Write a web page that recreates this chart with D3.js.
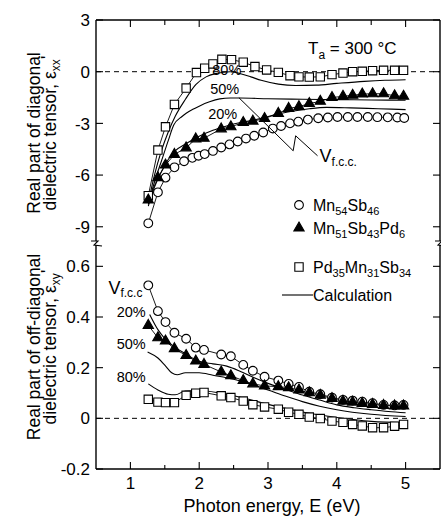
<!DOCTYPE html>
<html>
<head>
<meta charset="utf-8">
<script src="https://cdn.jsdelivr.net/npm/d3@7"></script>
<style>
  body { margin: 0; background: #fff; }
  svg { display: block; }
  text { font-family: "Liberation Sans", Arial, Helvetica, sans-serif; fill: #000; }
</style>
</head>
<body>
<svg id="chart" width="441" height="517"></svg>
<script>
// ---------------- measured data ----------------
// Real part of the diagonal tensor, eps_xx'
const energyMnSbXX = [1.26, 1.40, 1.51, 1.64, 1.78, 1.90, 1.99, 2.08, 2.20, 2.32, 2.44, 2.56, 2.68, 2.80, 2.93,
  3.07, 3.19, 3.32, 3.44, 3.58, 3.73, 3.87, 4.01, 4.16, 4.30, 4.45, 4.59, 4.74, 4.88, 4.98];
const epsXXMnSb = [-8.8, -7.0, -6.15, -5.55, -5.2, -5.0, -4.88, -4.78, -4.6, -4.4, -4.22, -4.05, -3.88, -3.72, -3.53,
  -3.3, -3.15, -3.0, -2.9, -2.78, -2.7, -2.66, -2.63, -2.63, -2.63, -2.63, -2.64, -2.65, -2.66, -2.69];

const energyGrid = [1.26, 1.40, 1.51, 1.64, 1.81, 1.95, 2.07, 2.32, 2.46, 2.64, 2.78, 2.95, 3.15, 3.30, 3.45,
  3.60, 3.76, 3.93, 4.09, 4.23, 4.37, 4.52, 4.68, 4.84, 4.97];
const epsXXMnSbPd = [-7.45, -6.15, -5.42, -4.8, -4.42, -3.9, -3.86, -3.32, -3.2, -2.95, -2.87, -2.72, -2.42, -2.13, -2.03,
  -1.85, -1.72, -1.5, -1.43, -1.37, -1.3, -1.28, -1.28, -1.4, -1.43];

const energyPdMnSbXX = [1.26, 1.40, 1.51, 1.64, 1.81, 1.96, 2.08, 2.20, 2.33, 2.47, 2.64, 2.81, 2.98, 3.15, 3.32,
  3.45, 3.60, 3.76, 3.93, 4.09, 4.23, 4.37, 4.52, 4.68, 4.84, 4.97];
const epsXXPdMnSb = [-7.2, -4.55, -3.2, -1.9, -0.95, -0.05, 0.2, 0.45, 0.72, 0.70, 0.55, 0.30, 0.10, -0.04, -0.23,
  -0.3, -0.31, -0.3, -0.17, -0.08, 0.0, 0.02, 0.06, 0.08, 0.08, 0.08];

// Real part of the off-diagonal tensor, eps_xy' (all on energyGrid)
const epsXYMnSb = [0.525, 0.423, 0.38, 0.338, 0.314, 0.279, 0.27, 0.252, 0.245, 0.211, 0.188, 0.164, 0.149, 0.136, 0.124,
  0.105, 0.095, 0.082, 0.073, 0.07, 0.066, 0.06, 0.053, 0.051, 0.053];
const epsXYMnSbPd = [0.367, 0.318, 0.305, 0.275, 0.248, 0.226, 0.213, 0.183, 0.168, 0.149, 0.136, 0.128, 0.125, 0.121, 0.112,
  0.101, 0.091, 0.078, 0.068, 0.064, 0.059, 0.055, 0.051, 0.049, 0.049];
const epsXYPdMnSb = [0.075, 0.064, 0.062, 0.062, 0.091, 0.099, 0.102, 0.089, 0.082, 0.068, 0.054, 0.045, 0.036, 0.024, 0.016,
  0.005, -0.001, -0.011, -0.016, -0.024, -0.03, -0.037, -0.037, -0.031, -0.024];

// ---------------- calculated curves (f.c.c. volume fraction) ----------------
const calcXXE80 = [1.26, 1.35, 1.45, 1.55, 1.65, 1.80, 1.95, 2.10, 2.25, 2.45, 2.60, 2.75, 2.90, 3.15, 3.40, 3.70, 4.00, 4.40, 4.70, 5.00];
const calcXX80 = [-7.6, -6.0, -4.6, -3.5, -2.6, -1.6, -0.75, -0.3, -0.1, 0.0, -0.12, -0.3, -0.5, -0.72, -0.8, -0.78, -0.68, -0.56, -0.5, -0.47];
const calcXXE50 = [1.26, 1.35, 1.45, 1.55, 1.63, 1.75, 1.90, 2.00, 2.15, 2.30, 2.45, 2.60, 3.00, 3.50, 4.00, 4.50, 5.00];
const calcXX50 = [-7.7, -6.4, -5.2, -4.0, -3.1, -2.6, -2.2, -2.0, -1.75, -1.58, -1.53, -1.53, -1.57, -1.6, -1.62, -1.64, -1.66];
const calcXXE20 = [1.26, 1.35, 1.45, 1.55, 1.65, 1.80, 2.00, 2.20, 2.40, 2.60, 2.80, 2.95, 3.15, 3.35, 3.60, 3.85, 4.20, 4.60, 5.00];
const calcXX20 = [-7.8, -6.7, -5.8, -5.1, -4.6, -4.2, -3.75, -3.4, -3.15, -2.95, -2.8, -2.65, -2.45, -2.3, -2.15, -2.07, -2.1, -2.15, -2.2];

const calcXYE20 = [1.28, 1.40, 1.50, 1.65, 1.80, 2.00, 2.20, 2.40, 2.60, 2.80, 3.00, 3.25, 3.50, 3.75, 4.00, 4.25, 4.50, 4.75, 5.00];
const calcXY20 = [0.41, 0.35, 0.315, 0.28, 0.255, 0.225, 0.215, 0.206, 0.185, 0.16, 0.138, 0.115, 0.092, 0.072, 0.053, 0.042, 0.034, 0.027, 0.022];
const calcXYE50 = [1.25, 1.40, 1.50, 1.60, 1.68, 1.80, 2.00, 2.20, 2.50, 2.75, 3.00, 3.25, 3.50, 3.75, 4.00, 4.50, 5.00];
const calcXY50 = [0.262, 0.238, 0.21, 0.18, 0.172, 0.18, 0.18, 0.17, 0.154, 0.135, 0.112, 0.088, 0.066, 0.048, 0.034, 0.016, 0.007];
const calcXYE80 = [1.26, 1.40, 1.55, 1.65, 1.80, 2.00, 2.30, 2.60, 3.00, 3.50, 4.00, 4.50, 5.00];
const calcXY80 = [0.136, 0.112, 0.095, 0.093, 0.108, 0.11, 0.1, 0.083, 0.055, 0.025, 0.003, -0.012, -0.017];

// ---------------- axes ----------------
const xMajorTicks = [1, 2, 3, 4, 5];
const xMinorTicks = [1.5, 2.5, 3.5, 4.5];
const xTickLabels = ["1", "2", "3", "4", "5"];
const yTopTicks = [3, 0, -3, -6, -9];
const yTopTickLabels = ["3", "0", "-3", "-6", "-9"];
const yBotTicks = [0.6, 0.4, 0.2, 0, -0.2];
const yBotTickLabels = ["0.6", "0.4", "0.2", "0", "-0.2"];

// ---------------- drawing ----------------
const svg = d3.select("#chart");
const plotLeft = 96, plotRight = 440, plotTop = 20, plotBottom = 469, breakY = 243;

const x = d3.scaleLinear().domain([0.5, 5.5]).range([plotLeft, plotRight]);
const yTop = d3.scaleLinear().domain([-10, 3]).range([244, plotTop]);
const yBot = d3.scaleLinear().domain([-0.2, 0.7]).range([plotBottom, 241]);

const zip = (xs, ys) => xs.map((e, i) => [e, ys[i]]);

// zero reference lines
[yTop, yBot].forEach(ys => {
  svg.append("line")
    .attr("x1", plotLeft).attr("x2", plotRight)
    .attr("y1", ys(0)).attr("y2", ys(0))
    .attr("stroke", "#000").attr("stroke-width", 1)
    .attr("stroke-dasharray", "5,4");
});

function drawLine(ys, pts, width) {
  svg.append("path")
    .datum(pts)
    .attr("fill", "none")
    .attr("stroke", "#000")
    .attr("stroke-width", width)
    .attr("d", d3.line().x(d => x(d[0])).y(d => ys(d[1])).curve(d3.curveMonotoneX));
}

// calculated curves
drawLine(yTop, zip(calcXXE80, calcXX80), 1.1);
drawLine(yTop, zip(calcXXE50, calcXX50), 1.1);
drawLine(yTop, zip(calcXXE20, calcXX20), 1.1);
drawLine(yBot, zip(calcXYE20, calcXY20), 1.1);
drawLine(yBot, zip(calcXYE50, calcXY50), 1.1);
drawLine(yBot, zip(calcXYE80, calcXY80), 1.1);

// measured series: connecting lines
function drawSeriesLine(ys, pts) {
  svg.append("path")
    .datum(pts)
    .attr("fill", "none")
    .attr("stroke", "#000")
    .attr("stroke-width", 0.9)
    .attr("d", d3.line().x(d => x(d[0])).y(d => ys(d[1])));
}

const sCircleXX = zip(energyMnSbXX, epsXXMnSb);
const sTriXX = zip(energyGrid, epsXXMnSbPd);
const sSqXX = zip(energyPdMnSbXX, epsXXPdMnSb);
const sCircleXY = zip(energyGrid, epsXYMnSb);
const sTriXY = zip(energyGrid, epsXYMnSbPd);
const sSqXY = zip(energyGrid, epsXYPdMnSb);

[[yTop, sCircleXX], [yTop, sTriXX], [yTop, sSqXX], [yBot, sCircleXY], [yBot, sTriXY], [yBot, sSqXY]]
  .forEach(([ys, pts]) => drawSeriesLine(ys, pts));

const circleSym = d3.symbol().type(d3.symbolCircle).size(60);
const squareSym = d3.symbol().type(d3.symbolSquare).size(70);
const triSym = d3.symbol().type(d3.symbolTriangle).size(46);

function drawMarkers(ys, pts, sym, filled) {
  svg.append("g").selectAll("path")
    .data(pts).join("path")
    .attr("transform", d => `translate(${x(d[0])},${ys(d[1])})`)
    .attr("d", sym)
    .attr("fill", filled ? "#000" : "#fff")
    .attr("stroke", "#000")
    .attr("stroke-width", 1.1);
}

drawMarkers(yTop, sCircleXX, circleSym, false);
drawMarkers(yTop, sSqXX, squareSym, false);
drawMarkers(yTop, sTriXX, triSym, true);
drawMarkers(yBot, sCircleXY, circleSym, false);
drawMarkers(yBot, sSqXY, squareSym, false);
drawMarkers(yBot, sTriXY, triSym, true);

// frame with axis break between the two panels
const frame = svg.append("g").attr("stroke", "#000").attr("stroke-width", 1.4).attr("fill", "none");
frame.append("line").attr("x1", plotLeft).attr("x2", plotRight).attr("y1", plotTop).attr("y2", plotTop);
frame.append("line").attr("x1", plotLeft).attr("x2", plotRight).attr("y1", plotBottom).attr("y2", plotBottom);
[plotLeft, plotRight].forEach(xx => {
  frame.append("line").attr("x1", xx).attr("x2", xx).attr("y1", plotTop).attr("y2", breakY - 2);
  frame.append("line").attr("x1", xx).attr("x2", xx).attr("y1", breakY + 2).attr("y2", plotBottom);
  frame.append("path").attr("stroke-width", 1.1)
    .attr("d", `M${xx - 5},${breakY - 2} L${xx + 2},${breakY - 2} L${xx - 2},${breakY + 2} L${xx + 6},${breakY + 3}`);
});

// x ticks (inward, top and bottom)
const tickG = svg.append("g").attr("stroke", "#000").attr("stroke-width", 1.1);
xMajorTicks.forEach(t => {
  tickG.append("line").attr("x1", x(t)).attr("x2", x(t)).attr("y1", plotBottom).attr("y2", plotBottom - 7);
  tickG.append("line").attr("x1", x(t)).attr("x2", x(t)).attr("y1", plotTop).attr("y2", plotTop + 7);
});
xMinorTicks.forEach(t => {
  tickG.append("line").attr("x1", x(t)).attr("x2", x(t)).attr("y1", plotBottom).attr("y2", plotBottom - 4);
  tickG.append("line").attr("x1", x(t)).attr("x2", x(t)).attr("y1", plotTop).attr("y2", plotTop + 5);
});
svg.append("g").selectAll("text").data(xMajorTicks).join("text")
  .attr("x", d => x(d)).attr("y", 489)
  .attr("text-anchor", "middle").attr("font-size", 17)
  .text((d, i) => xTickLabels[i]);

// y ticks (inward on both sides)
function yTicks(ys, ticks, labels) {
  ticks.forEach(t => {
    tickG.append("line").attr("x1", plotLeft).attr("x2", plotLeft + 7).attr("y1", ys(t)).attr("y2", ys(t));
    tickG.append("line").attr("x1", plotRight).attr("x2", plotRight - 7).attr("y1", ys(t)).attr("y2", ys(t));
  });
  svg.append("g").selectAll("text").data(ticks).join("text")
    .attr("x", plotLeft - 6).attr("y", d => ys(d)).attr("dy", "0.36em")
    .attr("text-anchor", "end").attr("font-size", 17)
    .text((d, i) => labels[i]);
}
yTicks(yTop, yTopTicks, yTopTickLabels);
yTicks(yBot, yBotTicks, yBotTickLabels);

// axis titles
svg.append("text").attr("x", (plotLeft + plotRight) / 2 + 4).attr("y", 512)
  .attr("text-anchor", "middle").attr("font-size", 18)
  .text("Photon energy, E (eV)");

function yTitle(cy, line1, sub) {
  const g = svg.append("g").attr("transform", `translate(0,${cy}) rotate(-90)`);
  g.append("text").attr("x", 0).attr("y", 40).attr("text-anchor", "middle").attr("font-size", 17.5).text(line1);
  const t2 = g.append("text").attr("x", 0).attr("y", 56).attr("text-anchor", "middle").attr("font-size", 17.5);
  t2.append("tspan").text("dielectric tensor, ε");
  t2.append("tspan").attr("dy", 4).attr("font-size", 12).text(sub);
  t2.append("tspan").attr("dy", -6).attr("font-size", 19).text("'");
}
yTitle(133, "Real part of diagonal", "xx");
yTitle(347, "Real part of off-diagonal", "xy");

// annealing temperature
const ta = svg.append("text").attr("x", 308).attr("y", 54).attr("font-size", 17);
ta.append("tspan").text("T");
ta.append("tspan").attr("dy", 5).attr("font-size", 12).text("a");
ta.append("tspan").attr("dy", -5).text(" = 300 °C");

// volume-fraction labels, upper panel
const pctFont = 14.5;
[[2.19, -0.17, "80%"], [2.16, -1.28, "50%"], [2.13, -2.73, "20%"]].forEach(([e, v, s]) => {
  svg.append("text").attr("x", x(e)).attr("y", yTop(v)).attr("font-size", pctFont).text(s);
});
// leader to the V_fcc label
svg.append("path")
  .datum([[2.577, -1.51], [3.366, -4.59], [3.402, -3.72], [3.72, -4.88]])
  .attr("fill", "none").attr("stroke", "#000").attr("stroke-width", 1)
  .attr("d", d3.line().x(d => x(d[0])).y(d => yTop(d[1])));
const vUp = svg.append("text").attr("x", x(3.75)).attr("y", yTop(-5.23)).attr("font-size", 18);
vUp.append("tspan").text("V");
vUp.append("tspan").attr("dy", 4).attr("font-size", 12).text("f.c.c.");

// volume-fraction labels, lower panel
const vLo = svg.append("text").attr("x", x(0.68)).attr("y", yBot(0.49)).attr("font-size", 18);
vLo.append("tspan").text("V");
vLo.append("tspan").attr("dy", 3).attr("font-size", 12).text("f.c.c");
[[0.80, 0.40, "20%"], [0.80, 0.272, "50%"], [0.80, 0.142, "80%"]].forEach(([e, v, s]) => {
  svg.append("text").attr("x", x(e)).attr("y", yBot(v)).attr("font-size", pctFont).text(s);
});

// legend
const legend = svg.append("g");
const legendRows = [
  { y: 205, sym: circleSym, filled: false, parts: [["Mn", false], ["54", true], ["Sb", false], ["46", true]] },
  { y: 228, sym: triSym, filled: true, parts: [["Mn", false], ["51", true], ["Sb", false], ["43", true], ["Pd", false], ["6", true]] },
  { y: 267, sym: squareSym, filled: false, parts: [["Pd", false], ["35", true], ["Mn", false], ["31", true], ["Sb", false], ["34", true]] }
];
legendRows.forEach(r => {
  legend.append("path").attr("transform", `translate(299,${r.y})`).attr("d", r.sym)
    .attr("fill", r.filled ? "#000" : "#fff").attr("stroke", "#000").attr("stroke-width", 1.1);
  const t = legend.append("text").attr("x", 313).attr("y", r.y + 6).attr("font-size", 16);
  let lowered = false;
  r.parts.forEach(([s, sub]) => {
    const sp = t.append("tspan").text(s);
    if (sub && !lowered) { sp.attr("dy", 4).attr("font-size", 11); lowered = true; }
    else if (sub) { sp.attr("font-size", 11); }
    else if (lowered) { sp.attr("dy", -4); lowered = false; }
  });
});
legend.append("line").attr("x1", 282).attr("x2", 313).attr("y1", 295).attr("y2", 295)
  .attr("stroke", "#000").attr("stroke-width", 1.1);
legend.append("text").attr("x", 313).attr("y", 301).attr("font-size", 16).text("Calculation");
</script>
</body>
</html>
